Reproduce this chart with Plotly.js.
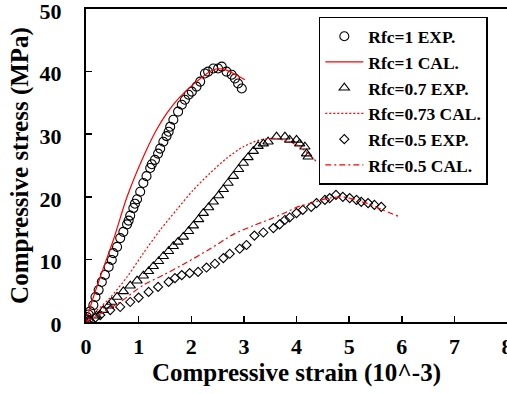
<!DOCTYPE html>
<html>
<head>
<meta charset="utf-8">
<script src="https://cdn.plot.ly/plotly-3.0.1.min.js"></script>
<style>
  html, body { margin: 0; padding: 0; background: #fff; }
  #chart { width: 507px; height: 394px; }
</style>
</head>
<body>
<div id="chart"></div>
<script>
// Stress–strain curves: experimental points and calculated curves
const exp1Strain = [0.00,0.02,0.05,0.08,0.14,0.18,0.24,0.30,0.36,0.43,0.49,0.52,0.59,0.65,0.71,0.78,0.81,0.84,0.90,0.93,0.97,1.03,1.09,1.15,1.22,1.25,1.31,1.37,1.41,1.47,1.53,1.57,1.60,1.66,1.75,1.82,1.88,1.95,2.01,2.10,2.17,2.26,2.32,2.42,2.51,2.58,2.67,2.77,2.83,2.89,2.96];
const exp1Stress = [0.3,0.8,1.2,1.7,2.7,4.0,5.1,6.4,7.5,8.8,9.9,11.0,12.0,13.4,14.4,15.6,16.2,17.0,18.2,18.9,19.6,20.8,22.2,23.3,24.6,25.2,25.9,26.9,27.7,28.8,29.7,30.4,31.2,32.3,33.6,34.7,35.5,36.3,36.8,37.6,38.4,39.7,40.0,40.5,40.5,40.8,40.0,39.5,38.9,38.1,37.3];

const cal1Strain = [0.00,0.08,0.27,0.52,0.78,1.09,1.34,1.53,1.79,2.10,2.42,2.61,2.80,3.02];
const cal1Stress = [0.0,2.4,7.2,13.1,20.0,26.4,30.7,33.3,36.0,38.4,40.3,40.4,39.7,38.7];

const exp07Strain = [0.08,0.20,0.33,0.43,0.49,0.59,0.71,0.84,0.97,1.09,1.19,1.28,1.38,1.47,1.57,1.66,1.75,1.85,1.95,2.04,2.14,2.23,2.33,2.42,2.52,2.61,2.70,2.80,2.90,2.99,3.08,3.18,3.27,3.37,3.46,3.62,3.78,3.87,4.00,4.06,4.16,4.19,4.22];
const exp07Stress = [0.3,1.0,1.9,2.6,3.2,4.0,4.9,5.8,6.6,7.4,8.1,8.9,9.7,10.5,11.3,12.1,12.8,13.6,14.5,15.4,16.4,17.4,18.3,19.2,20.2,21.2,22.2,23.3,24.4,25.4,26.3,27.3,28.1,28.5,28.8,29.6,29.6,29.1,29.1,28.5,28.0,26.9,26.4];

const cal073Strain = [0.00,0.08,0.45,0.78,1.09,1.41,1.72,2.04,2.36,2.68,2.99,3.31,3.62,4.00,4.25,4.38];
const cal073Stress = [0.0,0.85,3.8,7.2,11.0,14.7,17.9,21.1,23.8,26.2,28.0,29.1,29.3,28.3,26.7,25.6];

const exp05Strain = [0.05,0.18,0.27,0.46,0.65,0.84,1.00,1.19,1.37,1.57,1.69,1.82,1.97,2.13,2.29,2.45,2.61,2.73,2.92,3.05,3.20,3.37,3.56,3.68,3.78,3.87,4.00,4.12,4.28,4.38,4.54,4.63,4.75,4.88,5.01,5.14,5.23,5.36,5.48,5.61];
const exp05Stress = [0.3,0.7,1.1,1.9,2.4,3.2,3.9,4.8,5.6,6.4,7.0,7.5,7.8,8.0,8.7,9.3,10.2,10.9,11.7,12.3,13.8,14.3,15.0,15.6,16.3,16.7,17.4,17.9,18.4,19.0,19.5,19.8,20.3,20.0,19.8,19.5,19.2,19.0,18.7,18.4];

const cal05Strain = [0.00,0.27,0.65,1.09,1.47,1.91,2.36,2.80,3.18,3.49,3.74,4.06,4.25,4.57,4.88,5.20,5.33,5.64,5.96];
const cal05Stress = [0.0,1.3,3.2,5.9,7.5,9.5,11.7,14.0,15.4,16.4,17.3,18.5,18.9,19.7,20.0,19.3,19.0,17.9,16.8];

const seriesNames = ['Rfc=1 EXP.', 'Rfc=1 CAL.', 'Rfc=0.7 EXP.', 'Rfc=0.73 CAL.', 'Rfc=0.5 EXP.', 'Rfc=0.5 CAL.'];
const xTitle = 'Compressive strain (10^-3)';
const yTitle = 'Compressive stress (MPa)';

const serif = 'Liberation Serif, Times New Roman, serif';
const red = '#ff0000';

function expTrace(name, x, y, symbol, size) {
  return {
    type: 'scatter', mode: 'markers', name: name, x: x, y: y,
    marker: { symbol: symbol, size: size, color: '#000', line: { color: '#000', width: 1.1 } }
  };
}
function calTrace(name, x, y, dash) {
  return {
    type: 'scatter', mode: 'lines', name: name, x: x, y: y,
    line: { color: red, width: 1.2, dash: dash, shape: 'spline', smoothing: 0.8 }
  };
}

const traces = [
  expTrace(seriesNames[0], exp1Strain, exp1Stress, 'circle-open', 9),
  calTrace(seriesNames[1], cal1Strain, cal1Stress, 'solid'),
  expTrace(seriesNames[2], exp07Strain, exp07Stress, 'triangle-up-open', 9),
  calTrace(seriesNames[3], cal073Strain, cal073Stress, '2px,2px'),
  expTrace(seriesNames[4], exp05Strain, exp05Stress, 'diamond-open', 7),
  calTrace(seriesNames[5], cal05Strain, cal05Stress, '6px,3px,2px,3px')
];

const axisCommon = {
  showgrid: false, zeroline: false, showline: true,
  linecolor: '#000', linewidth: 2,
  ticks: 'inside', ticklen: 6, tickwidth: 1.5, tickcolor: '#000',
  ticklabeloverflow: 'allow',
  tickfont: { family: serif, size: 22, color: '#000', weight: 'bold' }
};

const layout = {
  width: 507, height: 394,
  margin: { l: 86, r: 0, t: 9, b: 72, pad: 0 },
  paper_bgcolor: '#fff', plot_bgcolor: '#fff',
  showlegend: true,
  legend: {
    x: 0.553, y: 0.975, xanchor: 'left', yanchor: 'top',
    bgcolor: '#fff', bordercolor: '#000', borderwidth: 1.5,
    font: { family: serif, size: 17.5, color: '#000', weight: 'bold' },
    itemwidth: 38, tracegroupgap: 0
  },
  xaxis: Object.assign({}, axisCommon, {
    range: [0, 8], dtick: 1, tick0: 0, mirror: true,
    ticklabelstandoff: 4,
    title: { text: xTitle, font: { family: serif, size: 25, color: '#000', weight: 'bold' }, standoff: 2 }
  }),
  yaxis: Object.assign({}, axisCommon, {
    range: [0, 50], dtick: 10, tick0: 0, mirror: false,
    ticklabelstandoff: 18, ticklabelshift: 2,
    title: { text: yTitle, font: { family: serif, size: 25, color: '#000', weight: 'bold' }, standoff: 4 }
  })
};

Plotly.newPlot('chart', traces, layout, { displayModeBar: false, staticPlot: true });
</script>
</body>
</html>
